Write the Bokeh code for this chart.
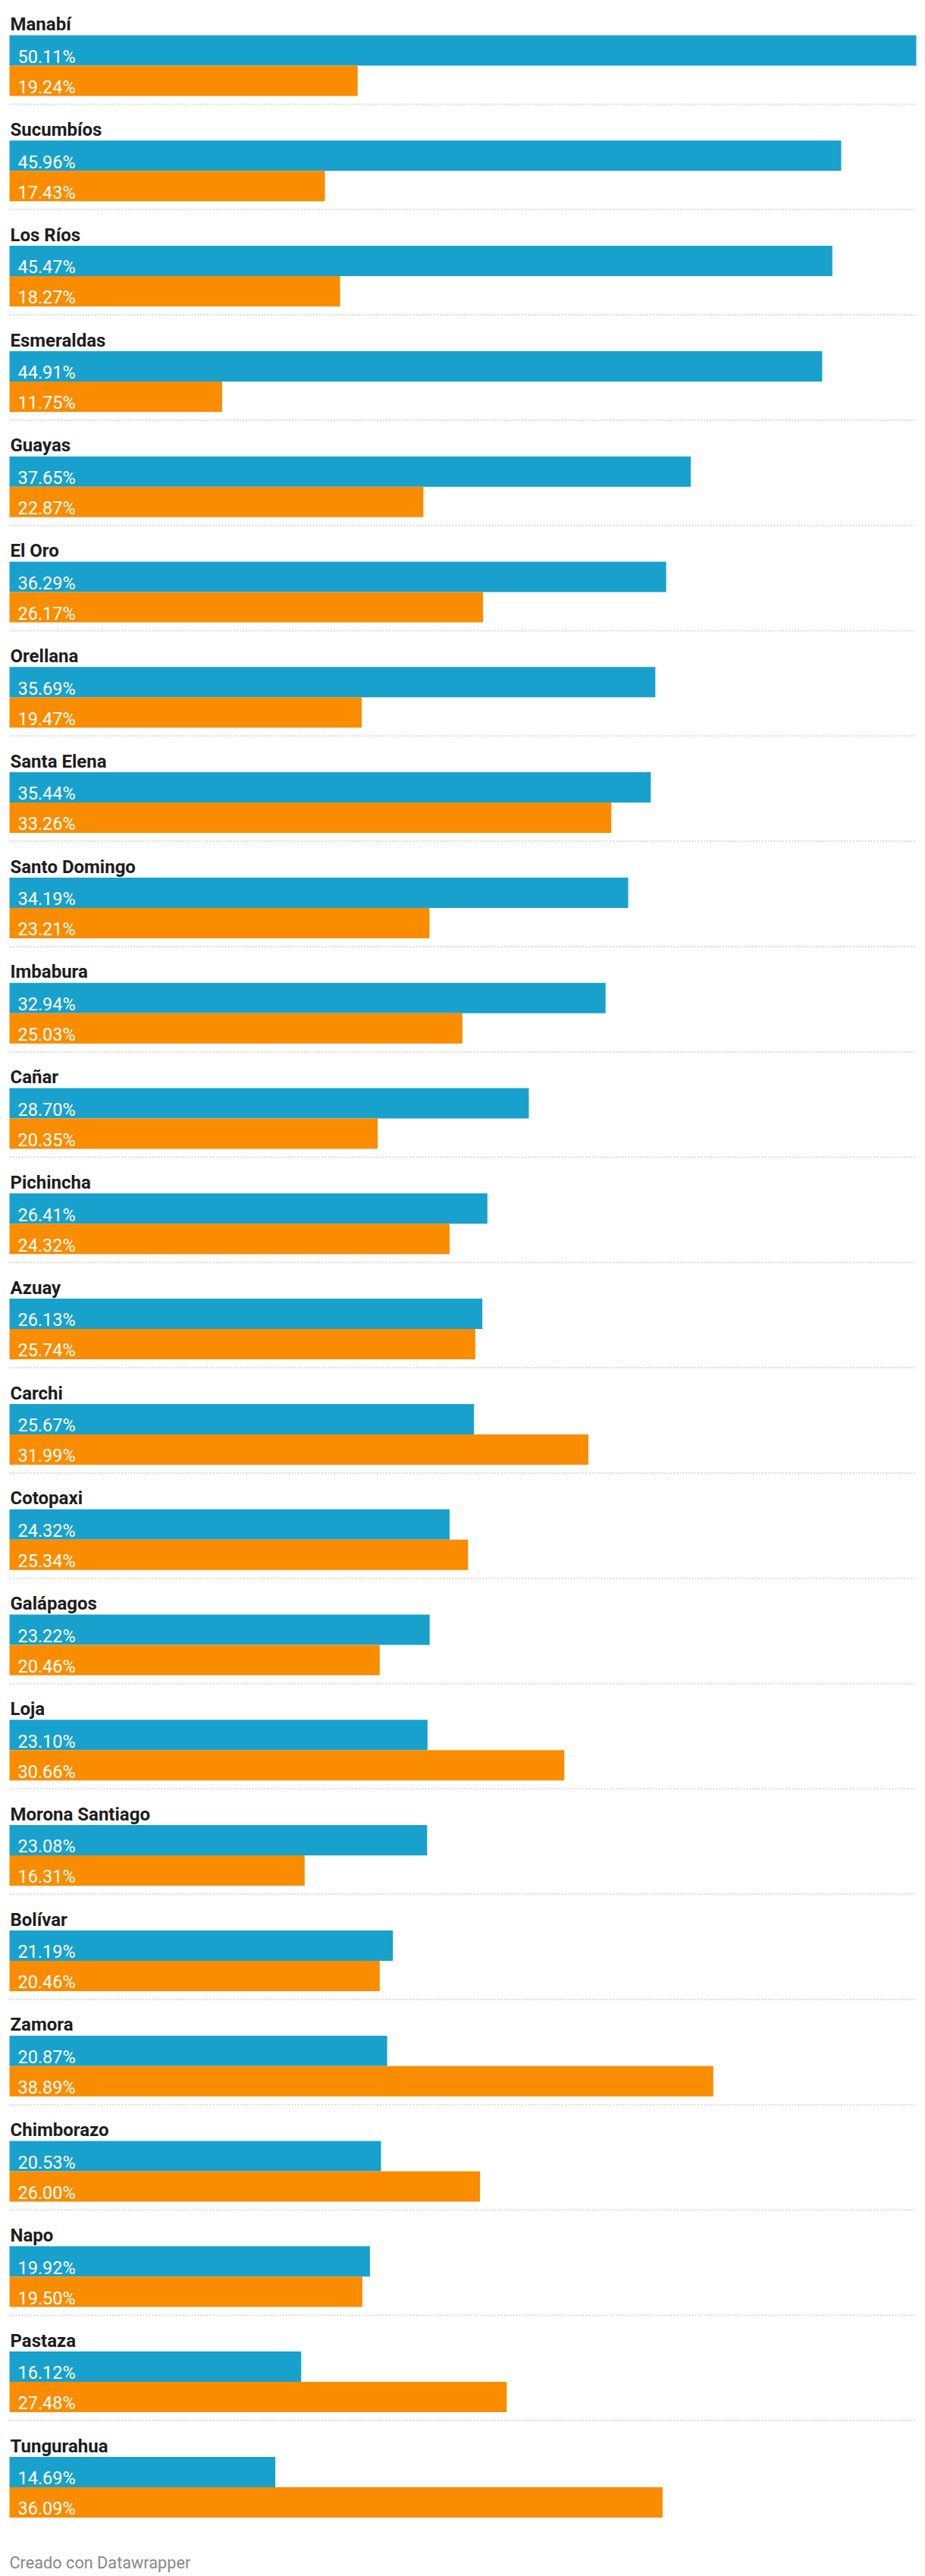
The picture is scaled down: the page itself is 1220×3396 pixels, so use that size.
from bokeh.plotting import figure
from bokeh.models import Range1d, ColumnDataSource
from bokeh.core.properties import value
from bokeh.embed import file_html
from bokeh.resources import INLINE

# ---- data ----
provinces = ["Manabí", "Sucumbíos", "Los Ríos", "Esmeraldas", "Guayas", "El Oro",
             "Orellana", "Santa Elena", "Santo Domingo", "Imbabura", "Cañar",
             "Pichincha", "Azuay", "Carchi", "Cotopaxi", "Galápagos", "Loja",
             "Morona Santiago", "Bolívar", "Zamora", "Chimborazo", "Napo",
             "Pastaza", "Tungurahua"]
series_blue = [50.11, 45.96, 45.47, 44.91, 37.65, 36.29, 35.69, 35.44, 34.19, 32.94,
               28.70, 26.41, 26.13, 25.67, 24.32, 23.22, 23.10, 23.08, 21.19, 20.87,
               20.53, 19.92, 16.12, 14.69]
series_orange = [19.24, 17.43, 18.27, 11.75, 22.87, 26.17, 19.47, 33.26, 23.21, 25.03,
                 20.35, 24.32, 25.74, 31.99, 25.34, 20.46, 30.66, 16.31, 20.46, 38.89,
                 26.00, 19.50, 27.48, 36.09]
footer_text = "Creado con Datawrapper"

# ---- layout (page pixel coordinates; the figure sits at the page's top-left) ----
W, H = 1218, 3394
PAGE_TOP = 0
BAR_LEFT_PX = 12         # value 0 sits 12px inside the figure
BAR_FULL_PX = 1196       # width of the longest bar
GROUP_START = 46.0
GROUP_STEP = 138.8
BAR_H = 40

vmax = max(series_blue + series_orange)
k = BAR_FULL_PX / vmax
x0 = -BAR_LEFT_PX / k
x1 = x0 + W / k

p = figure(width=W, height=H, output_backend="svg", toolbar_location=None,
           x_range=Range1d(x0, x1), y_range=Range1d(PAGE_TOP + H, PAGE_TOP),
           min_border=0, min_border_left=0, min_border_right=0,
           min_border_top=0, min_border_bottom=0)
p.xaxis.visible = False
p.yaxis.visible = False
p.grid.visible = False
p.outline_line_color = None
p.background_fill_color = "white"
p.border_fill_color = "white"

n = len(provinces)
tops = [GROUP_START + i * GROUP_STEP for i in range(n)]

blue_src = ColumnDataSource(dict(
    y=[t + BAR_H / 2 for t in tops], right=series_blue,
    ty=[t + 28.2 for t in tops],
    lab=[f"{v:.2f}%" for v in series_blue]))
orange_src = ColumnDataSource(dict(
    y=[t + BAR_H * 1.5 for t in tops], right=series_orange,
    ty=[t + 68.2 for t in tops],
    lab=[f"{v:.2f}%" for v in series_orange]))
name_src = ColumnDataSource(dict(y=[t - 14.3 for t in tops], name=provinces))
sep_src = ColumnDataSource(dict(y=[t + 91 for t in tops[:-1]]))

p.hbar(y="y", left=0, right="right", height=BAR_H, source=blue_src,
       fill_color="#18a1cd", line_color=None)
p.hbar(y="y", left=0, right="right", height=BAR_H, source=orange_src,
       fill_color="#fa8c00", line_color=None)

for src in (blue_src, orange_src):
    p.text(x=0, y="ty", text="lab", source=src, x_offset=11,
           text_font=value("Roboto"), text_font_size="23.5px",
           text_color="white", text_align="left", text_baseline="alphabetic")

p.text(x=0, y="y", text="name", source=name_src, x_offset=1,
       text_font=value("Roboto"), text_font_size="24px", text_font_style="bold",
       text_color="#1d1d1d", text_align="left", text_baseline="alphabetic")

p.segment(x0=0, x1=vmax, y0="y", y1="y", source=sep_src,
          line_color="#d9d9d9", line_width=2, line_dash="2 2")

p.text(x=[0], y=[3377.7], text=[footer_text], x_offset=0,
       text_font=value("Roboto"), text_font_size="21.7px",
       text_color="#888888", text_align="left", text_baseline="alphabetic")

open("out.html", "w").write(file_html(p, INLINE))
